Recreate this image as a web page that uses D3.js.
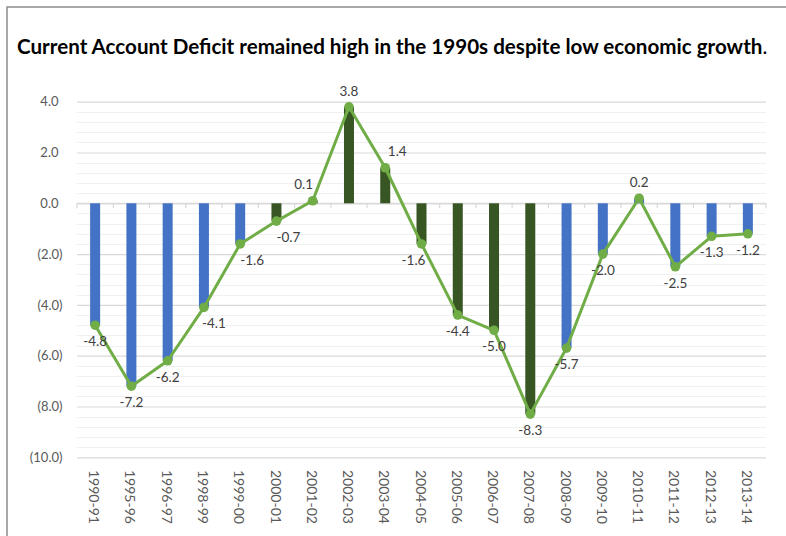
<!DOCTYPE html>
<html>
<head>
<meta charset="utf-8">
<script src="https://cdn.jsdelivr.net/npm/d3@7"></script>
<style>
  html, body { margin: 0; padding: 0; background: #fff; }
  svg { display: block; }
</style>
</head>
<body>
<svg id="chart" width="786" height="536"></svg>
<script>
// Fiscal years on the category axis
const years = ["1990-91", "1995-96", "1996-97", "1998-99", "1999-00", "2000-01", "2001-02",
  "2002-03", "2003-04", "2004-05", "2005-06", "2006-07", "2007-08", "2008-09", "2009-10",
  "2010-11", "2011-12", "2012-13", "2013-14"];

// Current account balance, % of GDP
const balance = [-4.8, -7.2, -6.2, -4.1, -1.6, -0.7, 0.1, 3.8, 1.4, -1.6, -4.4, -5.0, -8.3,
  -5.7, -2.0, 0.2, -2.5, -1.3, -1.2];

// Which period each bar belongs to (drives the bar colour)
const period = ["other", "other", "other", "other", "other", "2000s", "2000s", "2000s", "2000s",
  "2000s", "2000s", "2000s", "2000s", "other", "other", "other", "other", "other", "other"];

// Value-axis tick values
const yTicks = [4, 2, 0, -2, -4, -6, -8, -10];

const title = "Current Account Deficit remained high in the 1990s despite low economic growth";

// ---- layout ----
const svg = d3.select("#chart");
const plot = { left: 77, right: 766, top: 101.7, bottom: 457.3 };
const colors = { other: "#4472C4", "2000s": "#375623" };
const lineColor = "#70AD47";
const font = "Lato, 'Open Sans', sans-serif";

// sideways nudges for a few value labels, so they clear the line
const labelNudge = { "1998-99": 10, "1999-00": 12, "2000-01": 12, "2001-02": -9, "2003-04": 12, "2004-05": -8 };

const x = d3.scaleBand().domain(years).range([plot.left, plot.right]).paddingInner(0).paddingOuter(0);
const y = d3.scaleLinear().domain([-10, 4]).range([plot.bottom, plot.top]);

// plain hyphen-minus, one decimal
const num = v => (v < 0 ? "-" : "") + Math.abs(v).toFixed(1);

// outer frame
svg.append("rect")
  .attr("x", 7).attr("y", 7).attr("width", 820).attr("height", 560)
  .attr("fill", "none").attr("stroke", "#8c8c8c").attr("stroke-width", 1.5);

// title (the trailing full stop is set in regular weight)
const t = svg.append("text")
  .attr("x", 17).attr("y", 54)
  .attr("font-family", font).attr("font-size", 20.6).attr("fill", "#000");
t.append("tspan").attr("font-weight", 700).text(title);
t.append("tspan").attr("font-weight", 400).text(".");

// minor gridlines (every 0.4, skipping the major ones)
const minor = d3.range(0, 36).map(i => -10 + i * 0.4)
  .filter(v => Math.abs(v / 2 - Math.round(v / 2)) > 1e-6);
svg.append("g").selectAll("line").data(minor).join("line")
  .attr("x1", plot.left).attr("x2", plot.right)
  .attr("y1", d => Math.round(y(d)) + 0.5).attr("y2", d => Math.round(y(d)) + 0.5)
  .attr("stroke", "#f0f0f0").attr("stroke-width", 1);

// major gridlines + labels via d3 axis
const fmt = v => v < 0 ? "(" + Math.abs(v).toFixed(1) + ")" : v.toFixed(1);
const yAxis = svg.append("g")
  .attr("transform", `translate(${plot.left},0)`)
  .call(d3.axisLeft(y).tickValues(yTicks).tickFormat(fmt).tickSize(-(plot.right - plot.left)).tickPadding(0));
yAxis.select(".domain").remove();
yAxis.selectAll(".tick line").attr("stroke", "#d9d9d9").attr("stroke-width", 1.2);
yAxis.selectAll(".tick text")
  .attr("font-family", font).attr("font-size", 13).attr("fill", "#595959")
  .attr("x", d => d < 0 ? -14.5 : -18.5);

// zero axis line with category tick marks
const zeroY = y(0);
svg.append("line")
  .attr("x1", plot.left).attr("x2", plot.right).attr("y1", zeroY).attr("y2", zeroY)
  .attr("stroke", "#d9d9d9").attr("stroke-width", 1.2);
svg.append("g").selectAll("line").data(d3.range(years.length + 1)).join("line")
  .attr("x1", i => plot.left + i * x.step()).attr("x2", i => plot.left + i * x.step())
  .attr("y1", zeroY).attr("y2", zeroY + 5)
  .attr("stroke", "#d9d9d9").attr("stroke-width", 1.2);

// bars
const barW = 10;
svg.append("g").selectAll("rect").data(balance).join("rect")
  .attr("x", (d, i) => x(years[i]) + x.bandwidth() / 2 - barW / 2)
  .attr("width", barW)
  .attr("y", d => y(Math.max(0, d)))
  .attr("height", d => Math.abs(y(d) - y(0)))
  .attr("fill", (d, i) => colors[period[i]]);

// line + markers
const cx = i => x(years[i]) + x.bandwidth() / 2;
svg.append("path")
  .datum(balance)
  .attr("d", d3.line().x((d, i) => cx(i)).y(d => y(d)))
  .attr("fill", "none").attr("stroke", lineColor).attr("stroke-width", 3).attr("stroke-linejoin", "round");
svg.append("g").selectAll("circle").data(balance).join("circle")
  .attr("cx", (d, i) => cx(i)).attr("cy", d => y(d)).attr("r", 4.8)
  .attr("fill", lineColor);

// value labels
svg.append("g").selectAll("text").data(balance).join("text")
  .attr("x", (d, i) => cx(i) + (labelNudge[years[i]] || 0))
  .attr("y", d => y(d) + (d < 0 ? 16 : -16))
  .attr("dy", "0.35em")
  .attr("text-anchor", "middle")
  .attr("font-family", font).attr("font-size", 13.5).attr("fill", "#404040")
  .text(d => num(d));

// category labels, rotated to read top-to-bottom
svg.append("g").selectAll("text").data(years).join("text")
  .attr("transform", d => `translate(${x(d) + x.bandwidth() / 2 - 1},470) rotate(90)`)
  .attr("dy", "0.35em")
  .attr("font-family", font).attr("font-size", 14).attr("fill", "#595959")
  .text(d => d);
</script>
</body>
</html>
